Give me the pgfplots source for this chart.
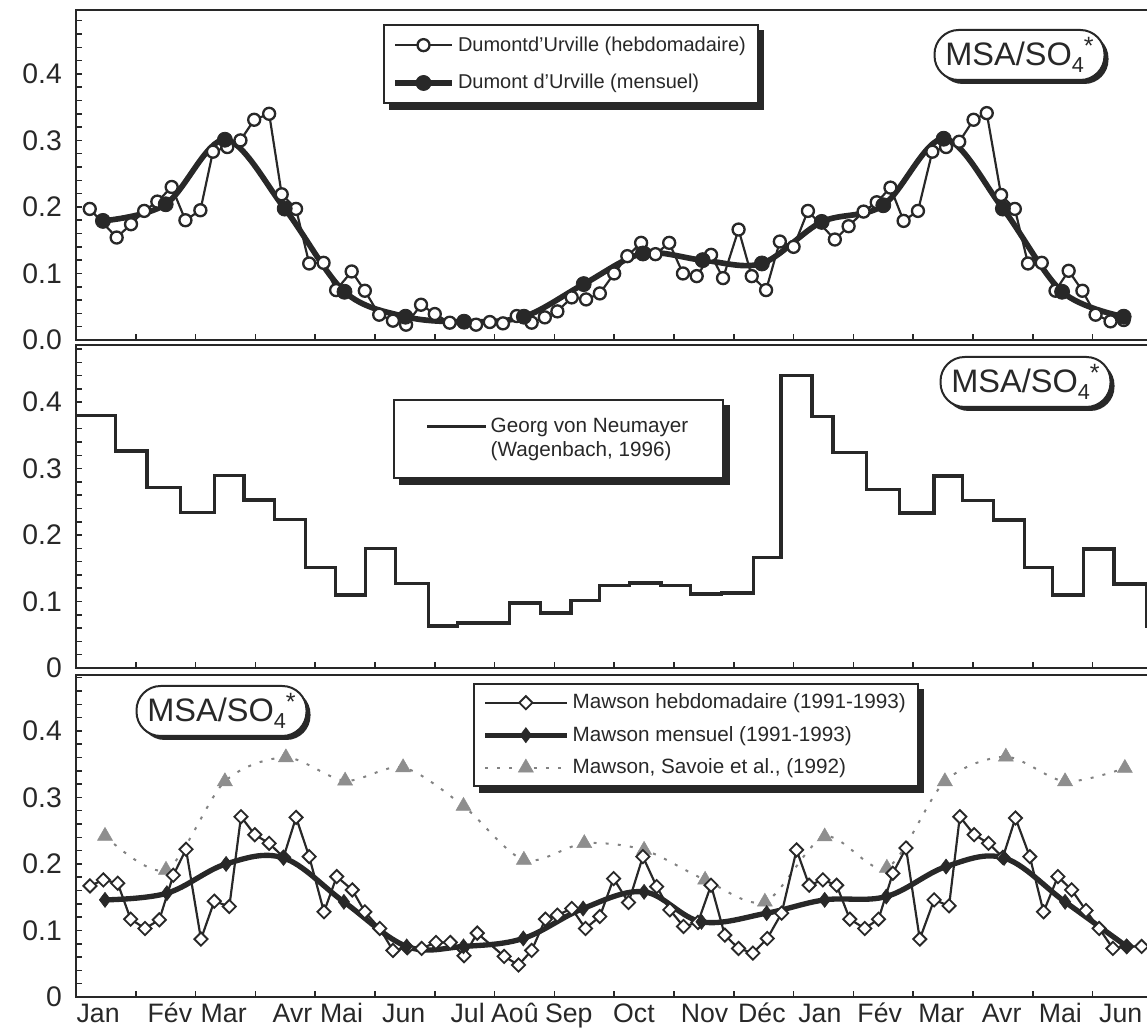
\documentclass[border=0pt]{standalone}
\usepackage{pgfplots}
\pgfplotsset{compat=1.18}
\usepackage{fontspec}
\setmainfont{Liberation Sans}
\usetikzlibrary{shadows}
\definecolor{ink}{RGB}{40,40,40}
\definecolor{tri}{RGB}{130,130,130}
\pgfplotsset{
 panel/.style={
   anchor=south west, scale only axis, width=653pt,
   xmin=0, xmax=18.2, ymin=0,
   xtick={1,...,17}, xticklabels={},
   ytick={0,0.1,0.2,0.3,0.4},
   minor ytick={0.02,0.04,0.06,0.08,0.12,0.14,0.16,0.18,0.22,0.24,0.26,0.28,0.32,0.34,0.36,0.38,0.42,0.44,0.46,0.48},
   tick align=inside, tick pos=left,
   major tick length=3.6pt, minor tick length=3.6pt,
   tick style={ink, line width=0.9pt},
   axis line style={ink, line width=1.2pt},
   yticklabel style={font=\fontsize{17}{20}\selectfont, xshift=-5pt, text=ink},
   xticklabel style={font=\fontsize{16}{20}\selectfont, text=ink, text height=13pt, text depth=3.5pt, yshift=1pt},
   legend cell align=left,
 },
 legbox/.style={draw=ink, line width=1.2pt, fill=white, text=ink},
}
\tikzset{msa/.style={draw=ink, line width=1.2pt, fill=white, rounded corners=14.5pt,
   minimum width=102pt, minimum height=30pt, inner sep=0pt,
   font=\fontsize{19.5}{21}\selectfont, text=ink,
   drop shadow={shadow xshift=2.4pt, shadow yshift=-2.4pt, fill=ink, opacity=1}},
   legshadow/.style={fill=ink}}
\newcommand{\msatext}{MSA/SO\raisebox{-0.22em}{\fontsize{13}{13}\selectfont 4}\raisebox{0.32em}{\fontsize{15}{15}\selectfont *}}
\begin{document}
\begin{tikzpicture}
\path[use as bounding box] (0pt,0pt) rectangle (688.2pt,618pt);
% ---------------- top panel
\begin{axis}[panel, at={(45.6pt,414pt)}, height=198pt, ymax=0.496,
  yticklabels={0.0,0.1,0.2,0.3,0.4},
  legend image code/.code={\draw[mark repeat=2,mark phase=2,#1] plot coordinates {(0pt,0pt) (17pt,0pt) (34pt,0pt)};},
  legend style={legbox, name=legA, font=\fontsize{12}{14}\selectfont, at={(0.2821,0.9576)}, anchor=north west, inner xsep=5pt, inner ysep=5pt, row sep=8.5pt}]
\addplot[ink, line width=1.3pt, mark=*, mark size=3.6pt, mark options={fill=white, draw=ink, line width=1.4pt}] coordinates {
(0.23,0.197)(0.68,0.154)(0.92,0.174)(1.14,0.194)(1.36,0.208)(1.60,0.230)(1.83,0.180)(2.08,0.195)(2.29,0.283)(2.53,0.290)(2.75,0.300)(2.98,0.331)(3.23,0.340)(3.44,0.219)(3.68,0.197)(3.90,0.115)(4.14,0.116)(4.35,0.075)(4.61,0.103)(4.83,0.074)(5.07,0.038)(5.30,0.029)(5.52,0.023)(5.77,0.053)(6.00,0.039)(6.25,0.026)(6.69,0.023)(6.92,0.027)(7.14,0.025)(7.37,0.036)(7.62,0.026)(7.84,0.034)(8.05,0.043)(8.29,0.064)(8.53,0.061)(8.76,0.070)(9.00,0.100)(9.22,0.126)(9.45,0.146)(9.69,0.129)(9.92,0.146)(10.15,0.100)(10.38,0.096)(10.62,0.128)(10.82,0.093)(11.08,0.166)(11.30,0.096)(11.54,0.075)(11.77,0.148)(12.00,0.140)(12.24,0.194)(12.69,0.151)(12.92,0.171)(13.17,0.193)(13.39,0.207)(13.62,0.229)(13.84,0.179)(14.08,0.194)(14.32,0.283)(14.55,0.290)(14.77,0.298)(15.01,0.331)(15.23,0.341)(15.47,0.218)(15.70,0.197)(15.92,0.115)(16.15,0.116)(16.38,0.074)(16.60,0.104)(16.83,0.074)(17.05,0.038)(17.30,0.028)(17.52,0.030)};
\addlegendentry{Dumontd'Urville (hebdomadaire)}
\addplot[ink, line width=3.4pt, smooth, tension=0.55, mark=*, mark size=4.5pt, mark options={fill=ink, draw=ink, line width=0.5pt}] coordinates {
(0.45,0.179)(1.50,0.204)(2.49,0.301)(3.49,0.1975)(4.49,0.0725)(5.51,0.035)(6.49,0.0275)(7.49,0.035)(8.49,0.084)(9.48,0.130)(10.48,0.120)(11.47,0.115)(12.47,0.1775)(13.50,0.2025)(14.51,0.3025)(15.50,0.1975)(16.49,0.0725)(17.52,0.035)};
\addlegendentry{Dumont d'Urville (mensuel)}
\end{axis}
% ---------------- middle panel
\begin{axis}[panel, at={(45.6pt,217.2pt)}, height=193.8pt, ymax=0.486,
  yticklabels={0,0.1,0.2,0.3,0.4},
  legend image code/.code={\draw[#1] (0pt,0pt) -- (35pt,0pt);},
  legend style={legbox, name=legB, font=\fontsize{12.4}{15}\selectfont, at={(0.2913,0.8328)}, anchor=north west, inner xsep=19pt, inner ysep=9pt, row sep=0pt}]
\addplot[ink, line width=2pt, const plot] coordinates {
(0,0.380)(0.66,0.3265)(1.19,0.2715)(1.75,0.234)(2.32,0.290)(2.81,0.253)(3.32,0.223)(3.84,0.1515)(4.34,0.110)(4.84,0.180)(5.34,0.1275)(5.90,0.063)(6.38,0.0675)(7.25,0.098)(7.77,0.0825)(8.28,0.1015)(8.75,0.124)(9.26,0.128)(9.78,0.124)(10.28,0.1115)(10.80,0.113)(11.33,0.1665)(11.79,0.440)(12.31,0.378)(12.66,0.324)(13.22,0.269)(13.77,0.233)(14.35,0.289)(14.83,0.2525)(15.34,0.2225)(15.86,0.1515)(16.33,0.110)(16.85,0.179)(17.36,0.1265)(17.90,0.063)(18.2,0.063)};
\addlegendentry{Georg von Neumayer}
\addlegendimage{empty legend}
\addlegendentry{(Wagenbach, 1996)}
\end{axis}
% ---------------- bottom panel
\begin{axis}[panel, at={(45.6pt,19.8pt)}, height=193.2pt, ymax=0.484,
  yticklabels={0,0.1,0.2,0.3,0.4},
  extra x ticks={0.37,1.57,2.47,3.62,4.44,5.48,6.55,7.34,8.24,9.33,10.51,11.47,12.44,13.44,14.47,15.48,16.46,17.47},
  extra x tick labels={Jan,Fév,Mar,Avr,Mai,Jun,Jul,Aoû,Sep,Oct,Nov,Déc,Jan,Fév,Mar,Avr,Mai,Jun},
  extra x tick style={major tick length=0pt},
  legend image code/.code={\draw[mark repeat=2,mark phase=2,#1] plot coordinates {(0pt,0pt) (24.5pt,0pt) (49pt,0pt)};},
  legend style={legbox, name=legC, font=\fontsize{12.4}{15}\selectfont, at={(0.3648,0.9752)}, anchor=north west, inner xsep=5pt, inner ysep=4pt, row sep=5pt}]
\addplot[tri, line width=1.2pt, smooth, dash pattern=on 1.8pt off 5.5pt, mark=triangle*, mark size=5.2pt, mark options={solid, fill=tri!90, draw=tri!90, line width=0.3pt}, forget plot] coordinates {
(0.485,0.242)(1.505,0.191)(2.49,0.324)(3.51,0.360)(4.50,0.325)(5.47,0.345)(6.48,0.287)(7.49,0.206)(8.50,0.231)(9.50,0.221)(10.52,0.176)(11.52,0.143)(12.52,0.241)(13.56,0.194)(14.53,0.324)(15.55,0.361)(16.54,0.324)(17.54,0.344)};
\addplot[ink, line width=1.3pt, mark=square*, mark size=2.8pt, mark options={rotate=45, fill=white, draw=ink, line width=1.1pt}] coordinates {
(0.234,0.167)(0.457,0.176)(0.697,0.171)(0.914,0.117)(1.154,0.103)(1.393,0.116)(1.627,0.183)(1.84,0.222)(2.09,0.087)(2.313,0.144)(2.564,0.136)(2.759,0.271)(2.99,0.244)(3.23,0.231)(3.47,0.210)(3.68,0.270)(3.90,0.211)(4.147,0.128)(4.36,0.181)(4.62,0.161)(4.83,0.128)(5.08,0.103)(5.30,0.070)(5.54,0.074)(5.78,0.073)(6.02,0.082)(6.26,0.082)(6.49,0.062)(6.71,0.096)(7.16,0.061)(7.40,0.048)(7.62,0.070)(7.85,0.117)(8.05,0.123)(8.29,0.133)(8.52,0.103)(8.76,0.121)(8.99,0.178)(9.24,0.142)(9.48,0.211)(9.71,0.166)(9.93,0.131)(10.16,0.106)(10.40,0.112)(10.62,0.168)(10.85,0.093)(11.08,0.073)(11.32,0.066)(11.56,0.088)(11.80,0.126)(12.05,0.221)(12.26,0.168)(12.49,0.176)(12.72,0.168)(12.94,0.117)(13.19,0.103)(13.42,0.117)(13.66,0.186)(13.88,0.224)(14.11,0.087)(14.35,0.146)(14.60,0.137)(14.78,0.271)(15.02,0.244)(15.26,0.231)(15.50,0.210)(15.71,0.269)(15.95,0.211)(16.18,0.128)(16.42,0.181)(16.65,0.161)(16.89,0.130)(17.11,0.103)(17.34,0.073)(17.57,0.076)(17.82,0.076)};
\addlegendentry{Mawson hebdomadaire (1991-1993)}
\addplot[ink, line width=3.2pt, smooth, tension=0.6, mark=diamond*, mark size=4.5pt, mark options={fill=ink, draw=ink, line width=0.4pt}] coordinates {
(0.485,0.146)(1.52,0.156)(2.51,0.200)(3.47,0.209)(4.48,0.143)(5.53,0.076)(6.48,0.076)(7.48,0.088)(8.48,0.133)(9.50,0.158)(10.46,0.113)(11.55,0.126)(12.52,0.146)(13.55,0.151)(14.55,0.196)(15.52,0.209)(16.54,0.143)(17.57,0.076)};
\addlegendentry{Mawson mensuel (1991-1993)}
\addlegendimage{tri, line width=1.2pt, dash pattern=on 1.8pt off 5.5pt, mark=triangle*, mark size=5.2pt, mark options={solid, fill=tri!90, draw=tri!90, line width=0.3pt}}
\addlegendentry{Mawson, Savoie et al., (1992)}
\end{axis}
% legend shadows
\foreach \L in {legA,legB,legC}{
  \fill[legshadow] ([yshift=-3.5pt]\L.north east) rectangle ([xshift=3.5pt,yshift=-3.5pt]\L.south east);
  \fill[legshadow] ([xshift=3.5pt]\L.south west) rectangle ([xshift=3.5pt,yshift=-3.5pt]\L.south east);
}
\node[msa] at (611.7pt,585pt) {\msatext};
\node[msa] at (615.3pt,388.8pt) {\msatext};
\node[msa] at (132.9pt,191.4pt) {\msatext};
\end{tikzpicture}
\end{document}
